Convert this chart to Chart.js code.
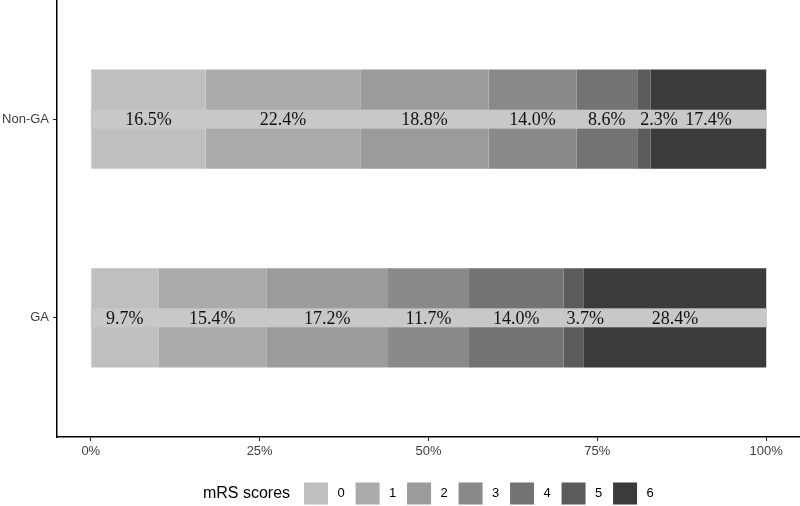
<!DOCTYPE html>
<html><head><meta charset="utf-8">
<script src="https://cdn.jsdelivr.net/npm/chart.js@4/dist/chart.umd.min.js"></script>
<style>html,body{margin:0;padding:0;background:#fff}</style>
</head><body>
<canvas id="c" width="800" height="506"></canvas>
<script>
// ---- data ----
const groups = ['GA', 'Non-GA'];
const groupPos = [1, 2];
const scores = ['0', '1', '2', '3', '4', '5', '6'];
const gaValues = [10.0, 16.0, 18.0, 12.0, 14.0, 3.0, 27.0];
const nonGaValues = [17.0, 22.9, 19.0, 13.0, 9.0, 2.0, 17.1];
const gaLabels = ['9.7%', '15.4%', '17.2%', '11.7%', '14.0%', '3.7%', '28.4%'];
const nonGaLabels = ['16.5%', '22.4%', '18.8%', '14.0%', '8.6%', '2.3%', '17.4%'];
const xTicks = [0, 25, 50, 75, 100];
const legendTitle = 'mRS scores';

// ---- styles ----
const colors = ['#bfbfbf', '#ababab', '#9b9b9b', '#898989', '#737373', '#5b5b5b', '#3b3b3b'];
const valueSets = [gaValues, nonGaValues];
const labelSets = [gaLabels, nonGaLabels];

const datasets = scores.map((s, i) => ({
  label: s,
  data: groupPos.map((p, gi) => ({ x: valueSets[gi][i], y: p })),
  segLabels: labelSets.map(ls => ls[i]),
  backgroundColor: colors[i],
  borderWidth: 0,
  categoryPercentage: 1,
  barPercentage: 0.5
}));

const stripPlugin = {
  id: 'strips',
  afterDatasetsDraw(chart) {
    const ctx = chart.ctx, xs = chart.scales.x, ys = chart.scales.y;
    ctx.save();
    groupPos.forEach((p, gi) => {
      const yc = ys.getPixelForValue(p);
      const x0 = xs.getPixelForValue(0), x1 = xs.getPixelForValue(100);
      ctx.fillStyle = '#c8c8c8';
      ctx.fillRect(x0, yc - 9.5, x1 - x0, 19);
      ctx.font = '18px "Liberation Serif", "Times New Roman", serif';
      ctx.fillStyle = '#111';
      ctx.textBaseline = 'middle';
      chart.data.datasets.forEach((ds, di) => {
        const el = chart.getDatasetMeta(di).data[gi];
        const a = Math.min(el.base, el.x), b = Math.max(el.base, el.x);
        const txt = ds.segLabels[gi];
        const w = ctx.measureText(txt).width;
        if (w > b - a) { ctx.textAlign = 'left'; ctx.fillText(txt, a + 3, yc + 1); }
        else { ctx.textAlign = 'center'; ctx.fillText(txt, (a + b) / 2, yc + 1); }
      });
    });
    ctx.restore();
  }
};

const legendPlugin = {
  id: 'customLegend',
  afterDraw(chart) {
    const ctx = chart.ctx, ca = chart.chartArea;
    ctx.save();
    const yc = chart.height - 12.5;
    ctx.font = '16px "Liberation Sans", Arial, sans-serif';
    const tw = ctx.measureText(legendTitle).width;
    const pitch = 51.5, boxW = 24, boxH = 22, gapTitle = 14;
    const n = chart.data.datasets.length;
    const total = tw + gapTitle + (n - 1) * pitch + 37 + 4;
    let x = (ca.left + ca.right) / 2 - total / 2;
    ctx.fillStyle = '#000';
    ctx.textBaseline = 'middle';
    ctx.textAlign = 'left';
    ctx.fillText(legendTitle, x, yc);
    x += tw + gapTitle;
    ctx.font = '13px "Liberation Sans", Arial, sans-serif';
    chart.data.datasets.forEach((ds, i) => {
      const bx = x + i * pitch;
      ctx.fillStyle = ds.backgroundColor;
      ctx.fillRect(bx, yc - boxH / 2, boxW, boxH);
      ctx.fillStyle = '#000';
      ctx.textAlign = 'center';
      ctx.fillText(ds.label, bx + 37, yc);
    });
    ctx.restore();
  }
};

const tickFont = { family: '"Liberation Sans", Arial, sans-serif', size: 13 };
const gridOpts = { drawOnChartArea: false, drawTicks: true, tickLength: 4, color: '#222', lineWidth: 1, offset: false };
const borderOpts = { display: true, color: '#000', width: 1.5 };

new Chart(document.getElementById('c'), {
  type: 'bar',
  data: { datasets },
  options: {
    indexAxis: 'y',
    responsive: false,
    animation: false,
    layout: { padding: 0 },
    plugins: { legend: { display: false }, tooltip: { enabled: false } },
    scales: {
      x: {
        type: 'linear', stacked: true, min: -5, max: 105, offset: false,
        afterBuildTicks: s => { s.ticks = xTicks.map(v => ({ value: v })); },
        afterFit: s => { s.height = 69; s.paddingLeft = 0; s.paddingRight = 0; },
        ticks: { callback: v => v + '%', font: tickFont, color: '#3d3d3d', padding: 3, maxRotation: 0, autoSkip: false },
        grid: gridOpts, border: borderOpts
      },
      y: {
        type: 'linear', stacked: true, min: 0.4, max: 2.6, offset: false,
        afterBuildTicks: s => { s.ticks = groupPos.map(v => ({ value: v })); },
        afterFit: s => { s.width = 57; s.paddingTop = 0; s.paddingBottom = 0; },
        ticks: { callback: v => { const k = groupPos.indexOf(v); return k >= 0 ? groups[k] : ''; }, font: tickFont, color: '#3d3d3d', padding: 4, autoSkip: false },
        grid: gridOpts, border: borderOpts
      }
    }
  },
  plugins: [stripPlugin, legendPlugin]
});
</script>
</body></html>
